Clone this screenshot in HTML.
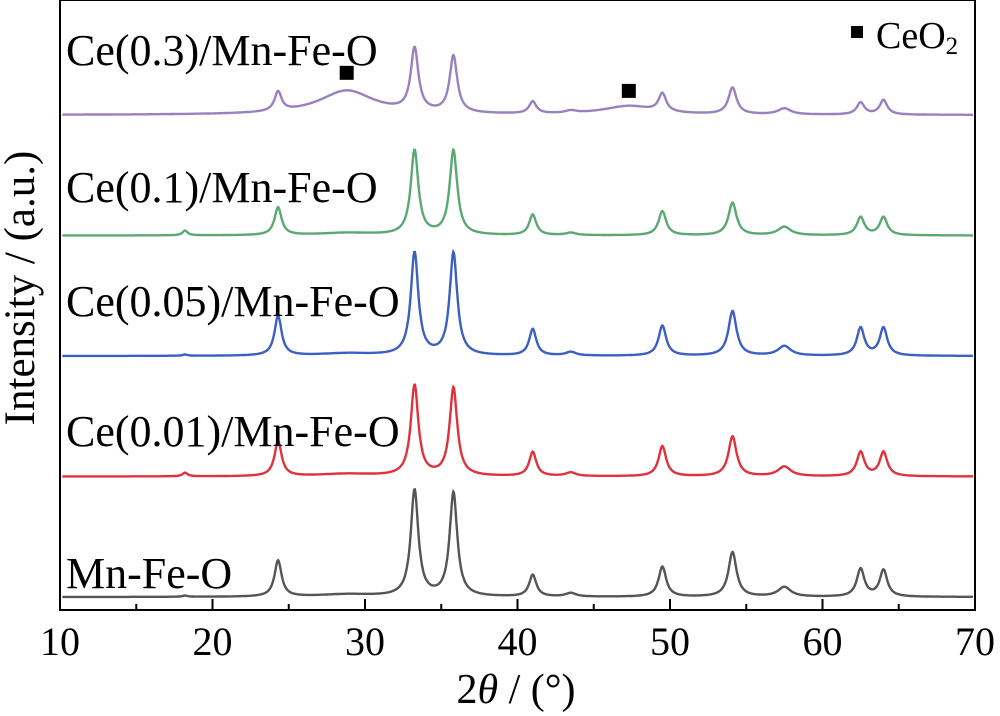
<!DOCTYPE html>
<html><head><meta charset="utf-8"><style>
html,body{margin:0;padding:0;background:#fff;}
svg{display:block;font-family:"Liberation Serif",serif;}
</style></head><body>
<svg id="chart" width="1000" height="716">
<g id="series"></g>
<rect x="60" y="0" width="915" height="610" fill="none" stroke="#000" stroke-width="2"/>
<g id="ticks"></g>
<text x="516" y="703" font-size="42" text-anchor="middle">2<tspan font-style="italic">θ</tspan> / (°)</text>
<text transform="translate(34,288) rotate(-90)" font-size="43" text-anchor="middle">Intensity / (a.u.)</text>
<g font-size="44">
<text x="66" y="65">Ce(0.3)/Mn-Fe-O</text>
<text x="66" y="202">Ce(0.1)/Mn-Fe-O</text>
<text x="66" y="316">Ce(0.05)/Mn-Fe-O</text>
<text x="66" y="446">Ce(0.01)/Mn-Fe-O</text>
<text x="66" y="588">Mn-Fe-O</text>
</g>
<g id="markers"></g>
<rect x="851" y="26" width="12" height="12" fill="#000"/>
<text x="876" y="48" font-size="38">CeO<tspan font-size="25" dy="6">2</tspan></text>
</svg>
<script>
const xMin = 10, xMax = 70;
const peakPos = [18.2, 24.3, 28.8, 33.25, 35.8, 41.0, 43.5, 47.3, 49.5, 54.1, 57.5, 62.5, 64.0];
const peakWidth = [0.2, 0.28, 2.2, 0.3, 0.3, 0.28, 0.4, 2.0, 0.3, 0.32, 0.5, 0.3, 0.3];
const seriesNames = ["mn-fe-o", "ce001", "ce005", "ce01", "ce03"];
const seriesColors = ["#555555", "#e0323c", "#3c5fc2", "#5aa872", "#9b80c0"];
const baselines = [0.0, 1.0, 2.0, 3.0, 4.0];
const heightsGray = [0.01, 0.30, 0.02, 0.88, 0.86, 0.18, 0.03, 0.0, 0.25, 0.37, 0.08, 0.23, 0.22];
const heightsRed = [0.03, 0.29, 0.02, 0.75, 0.73, 0.20, 0.03, 0.0, 0.25, 0.33, 0.08, 0.20, 0.20];
const heightsBlue = [0.01, 0.33, 0.02, 0.85, 0.85, 0.22, 0.03, 0.0, 0.25, 0.37, 0.08, 0.23, 0.23];
const heightsGreen = [0.04, 0.23, 0.02, 0.70, 0.70, 0.17, 0.02, 0.0, 0.20, 0.27, 0.07, 0.15, 0.15];
const heightsPurple = [0.0, 0.16, 0.20, 0.52, 0.47, 0.10, 0.02, 0.07, 0.15, 0.22, 0.05, 0.10, 0.12];
const allHeights = [heightsGray, heightsRed, heightsBlue, heightsGreen, heightsPurple];
const xTicks = [10, 20, 30, 40, 50, 60, 70];
const markerPos = [28.8, 47.3];
const markerLevel = [4.35, 4.2];

const px = v => 60 + (v - xMin) / (xMax - xMin) * 915;
const py = v => 597 - v * 120.5;
const NS = "http://www.w3.org/2000/svg";

const sg = document.getElementById("series");
allHeights.forEach((hs, si) => {
  let d = "";
  for (let x = xMin + 0.15; x <= xMax - 0.1; x += 0.04) {
    let y = baselines[si];
    for (let k = 0; k < peakPos.length; k++) {
      const w = peakWidth[k], t = (x - peakPos[k]) / w;
      y += hs[k] / (1 + t * t);
    }
    d += (d ? "L" : "M") + px(x).toFixed(1) + "," + py(y).toFixed(1);
  }
  const p = document.createElementNS(NS, "path");
  p.setAttribute("d", d);
  p.setAttribute("fill", "none");
  p.setAttribute("stroke", seriesColors[si]);
  p.setAttribute("stroke-width", "2.4");
  
  
  sg.appendChild(p);
});

const tg = document.getElementById("ticks");
for (let v = xMin; v <= xMax; v += 5) {
  const major = v % 10 === 0;
  const l = document.createElementNS(NS, "line");
  l.setAttribute("x1", px(v)); l.setAttribute("x2", px(v));
  l.setAttribute("y1", 610); l.setAttribute("y2", major ? 599 : 604);
  l.setAttribute("stroke", "#000"); l.setAttribute("stroke-width", "2");
  
  
  tg.appendChild(l);
}
xTicks.forEach(v => {
  const t = document.createElementNS(NS, "text");
  t.setAttribute("x", px(v)); t.setAttribute("y", 655);
  t.setAttribute("font-size", "40"); t.setAttribute("text-anchor", "middle");
  t.textContent = v;
  
  
  tg.appendChild(t);
});

const mg = document.getElementById("markers");
markerPos.forEach((v, i) => {
  const r = document.createElementNS(NS, "rect");
  r.setAttribute("x", px(v) - 7); r.setAttribute("y", py(markerLevel[i]) - 7);
  r.setAttribute("width", 14); r.setAttribute("height", 14);
  r.setAttribute("fill", "#000");
  
  
  mg.appendChild(r);
});
</script>
</body></html>
